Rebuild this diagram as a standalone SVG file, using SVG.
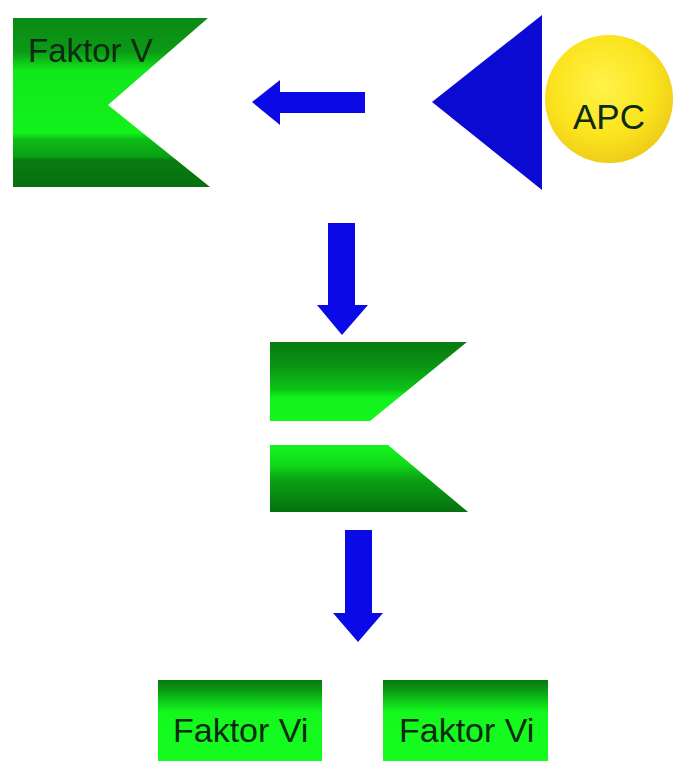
<svg xmlns="http://www.w3.org/2000/svg" width="678" height="761" viewBox="0 0 678 761">
  <defs>
    <!-- banded green shading: dark - bright - dark -->
    <linearGradient id="gV" x1="0" y1="18" x2="0" y2="187" gradientUnits="userSpaceOnUse">
      <stop offset="0" stop-color="#0a8a14"/>
      <stop offset="0.2" stop-color="#0c9a16"/>
      <stop offset="0.31" stop-color="#10e81a"/>
      <stop offset="0.68" stop-color="#12f21c"/>
      <stop offset="0.72" stop-color="#0cbc16"/>
      <stop offset="0.82" stop-color="#0aa014"/>
      <stop offset="0.84" stop-color="#087c10"/>
      <stop offset="1" stop-color="#06700e"/>
    </linearGradient>
    <linearGradient id="gUp" x1="0" y1="342" x2="0" y2="421" gradientUnits="userSpaceOnUse">
      <stop offset="0" stop-color="#077a10"/>
      <stop offset="0.3" stop-color="#0a9414"/>
      <stop offset="0.6" stop-color="#0cc418"/>
      <stop offset="0.7" stop-color="#12f21c"/>
      <stop offset="1" stop-color="#14f61e"/>
    </linearGradient>
    <linearGradient id="gDown" x1="0" y1="445" x2="0" y2="512" gradientUnits="userSpaceOnUse">
      <stop offset="0" stop-color="#14f61e"/>
      <stop offset="0.3" stop-color="#10d81a"/>
      <stop offset="0.5" stop-color="#0aa414"/>
      <stop offset="0.75" stop-color="#088a12"/>
      <stop offset="1" stop-color="#06700e"/>
    </linearGradient>
    <linearGradient id="gVi" x1="0" y1="680" x2="0" y2="761" gradientUnits="userSpaceOnUse">
      <stop offset="0" stop-color="#067a0e"/>
      <stop offset="0.12" stop-color="#0a9814"/>
      <stop offset="0.3" stop-color="#10d81a"/>
      <stop offset="0.4" stop-color="#14f81e"/>
      <stop offset="1" stop-color="#16fc20"/>
    </linearGradient>
    <radialGradient id="gApc" cx="0.45" cy="0.4" r="0.65">
      <stop offset="0" stop-color="#fff24a"/>
      <stop offset="0.6" stop-color="#fbe41e"/>
      <stop offset="1" stop-color="#ecc818"/>
    </radialGradient>
    <style>
      .lbl { font-family: "Liberation Sans", Arial, sans-serif; fill: #0b2a10; }
      .arrow { fill: #0a0ae6; }
    </style>
  </defs>

  <rect width="678" height="761" fill="#ffffff"/>

  <g id="faktor-v">
    <polygon points="13,18 208,18 108,105 210,187 13,187" fill="url(#gV)"/>
    <text class="lbl" x="28" y="62" font-size="33">Faktor V</text>
  </g>

  <g id="apc">
    <polygon points="432,102 542,15 542,190" fill="#0a0ad2"/>
    <circle cx="609" cy="99" r="64" fill="url(#gApc)"/>
    <text class="lbl" x="573" y="129" font-size="35" fill="#111">APC</text>
  </g>

  <g id="faktor-v-split">
    <polygon points="270,342 467,342 370,421 270,421" fill="url(#gUp)"/>
    <polygon points="270,445 388,445 468,512 270,512" fill="url(#gDown)"/>
  </g>

  <g id="faktor-vi-1">
    <rect x="158" y="680" width="164" height="81" fill="url(#gVi)"/>
    <text class="lbl" x="173" y="742" font-size="34">Faktor Vi</text>
  </g>

  <g id="faktor-vi-2">
    <rect x="383" y="680" width="165" height="81" fill="url(#gVi)"/>
    <text class="lbl" x="399" y="742" font-size="34">Faktor Vi</text>
  </g>

  <g id="connectors">
    <polygon class="arrow" points="252,102 280,80 280,92 365,92 365,113 280,113 280,125"/>
    <polygon class="arrow" points="328,223 355,223 355,305 368,305 342,335 317,305 328,305"/>
    <polygon class="arrow" points="345,530 372,530 372,613 383,613 358,642 333,613 345,613"/>
  </g>
</svg>
